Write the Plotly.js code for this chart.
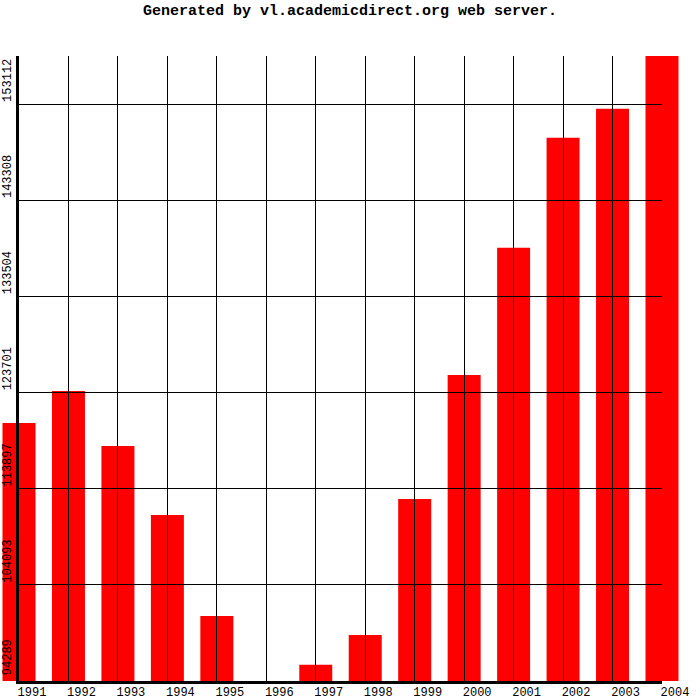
<!DOCTYPE html>
<html>
<head>
<meta charset="utf-8">
<script src="https://cdn.plot.ly/plotly-3.0.1.min.js"></script>
<style>html,body{margin:0;padding:0;background:#fff;}#chart{width:700px;height:700px;}</style>
</head>
<body>
<div id="chart"></div>
<script>
var years = [1991, 1992, 1993, 1994, 1995, 1996, 1997, 1998, 1999, 2000, 2001, 2002, 2003, 2004];
var values = [120605, 123869, 118259, 111221, 100919, 94289, 95952, 98981, 112853, 125501, 138455, 149675, 152632, 158014];
var yTickVals = [94289, 104093, 113897, 123701, 133504, 143308, 153112];
var yTickText = ["94289", "104093", "113897", "123701", "133504", "143308", "153112"];
var xTickText = ["1991", "1992", "1993", "1994", "1995", "1996", "1997", "1998", "1999", "2000", "2001", "2002", "2003", "2004"];
var yMin = 94289;
var yMax = 158014;

// geometry of the frame (pixels)
var W = 700, H = 700;
var axL = 19, axR = 662;          // left axis / last gridline
var frameTop = 56, frameBottom = 681;
var pxPerYear = (axR - axL) / (years[years.length - 1] - years[0]);
var fullRange = [years[0] - axL / pxPerYear, years[years.length - 1] + (W - axR) / pxPerYear];

var bars = {
  type: 'bar',
  x: years,
  y: values.map(function (v) { return v - yMin; }),
  base: yMin,
  width: 0.667,
  marker: { color: '#ff0000', line: { width: 0 } },
  xaxis: 'x', yaxis: 'y',
  hoverinfo: 'none'
};
// invisible helper so the framed axes subplot is built
var frame = {
  type: 'scatter',
  mode: 'markers',
  x: years,
  y: values,
  marker: { opacity: 0, size: 1 },
  xaxis: 'x2', yaxis: 'y2',
  hoverinfo: 'none'
};

var tickFont = { family: 'Liberation Mono, DejaVu Sans Mono, monospace', size: 12, color: '#000' };

var layout = {
  width: W,
  height: H,
  paper_bgcolor: '#fff',
  plot_bgcolor: 'rgba(0,0,0,0)',
  showlegend: false,
  margin: { l: 0, r: 0, t: frameTop, b: H - frameBottom, pad: 0, autoexpand: false },
  title: {
    text: 'Generated by vl.academicdirect.org web server.',
    font: { family: 'Liberation Mono, DejaVu Sans Mono, monospace', size: 15, weight: 700, color: '#000' },
    xref: 'container', x: 0.5, xanchor: 'center',
    yref: 'container', y: 1 - 10 / H, yanchor: 'middle'
  },
  xaxis: {
    domain: [0, 1],
    range: fullRange,
    visible: false,
    fixedrange: true
  },
  yaxis: {
    domain: [0, 1],
    range: [yMin, yMax],
    visible: false,
    fixedrange: true
  },
  xaxis2: {
    domain: [axL / W, axR / W],
    anchor: 'y2',
    type: 'linear',
    range: [years[0], years[years.length - 1]],
    tickmode: 'array',
    tickvals: years,
    ticktext: xTickText,
    ticks: 'inside',
    ticklen: frameBottom - frameTop,
    tickwidth: 1,
    tickcolor: '#000',
    showgrid: false,
    zeroline: false,
    showline: true,
    linewidth: 3,
    linecolor: '#000',
    tickfont: tickFont,
    ticklabelshift: 13,
    ticklabelstandoff: -2,
    ticklabeloverflow: 'allow',
    fixedrange: true
  },
  yaxis2: {
    domain: [0, 1],
    anchor: 'x2',
    range: [yMin, yMax],
    tickmode: 'array',
    tickvals: yTickVals,
    ticktext: yTickText,
    ticks: 'inside',
    ticklen: axR - axL,
    tickwidth: 1,
    tickcolor: '#000',
    showgrid: false,
    zeroline: false,
    showline: true,
    linewidth: 3,
    linecolor: '#000',
    tickangle: -90,
    tickfont: tickFont,
    ticklabelshift: -22,
    ticklabeloverflow: 'allow',
    fixedrange: true
  }
};

Plotly.newPlot('chart', [bars, frame], layout, { staticPlot: true, displayModeBar: false });
</script>
</body>
</html>
